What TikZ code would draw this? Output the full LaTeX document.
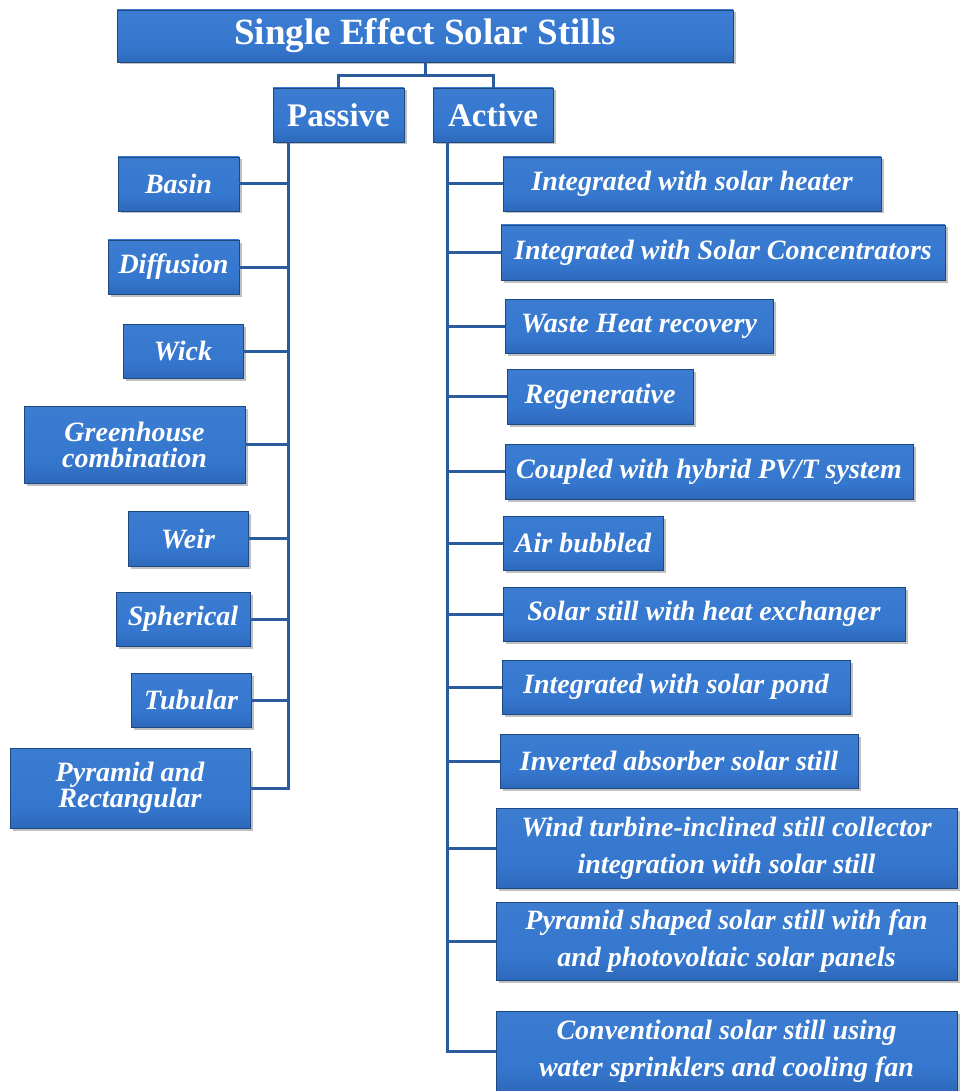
\documentclass[tikz,border=0pt]{standalone}
\usepackage{fontspec}
\setmainfont{Liberation Serif}
\usetikzlibrary{shadows}
\definecolor{btop}{HTML}{6FAAEC}
\definecolor{bmid}{HTML}{3577CE}
\definecolor{bbot}{HTML}{2457A3}
\definecolor{bedge}{HTML}{1E4882}
\definecolor{lnc}{HTML}{2D5C9E}
\pgfdeclareverticalshading{bevel}{100bp}{color(0bp)=(bbot); color(6bp)=(bbot); color(40bp)=(bmid); color(88bp)=(bmid!85!btop); color(93bp)=(btop); color(100bp)=(btop)}
\tikzset{
  box/.style={draw=bedge, line width=0.8pt, shading=bevel,
    text=white, align=center, inner sep=0pt,
    drop shadow={shadow xshift=2.5pt, shadow yshift=-2.5pt, opacity=0.35, fill=black!70}},
  kid/.style={box, font=\bfseries\itshape\fontsize{28}{26}\selectfont},
  kidtwo/.style={box, font=\bfseries\itshape\fontsize{28}{37}\selectfont},
  head/.style={box, font=\bfseries\fontsize{33}{36}\selectfont},
  conn/.style={draw=lnc, line width=3pt}
}
\begin{document}
\begin{tikzpicture}[x=1pt,y=-1pt]
\useasboundingbox (0,0) rectangle (959,1091);
\fill[white] (0,0) rectangle (959,1091);
% headers
\node[head, font=\bfseries\fontsize{37}{40}\selectfont, minimum width=616pt, minimum height=52pt] (title) at (425,36) {Single Effect Solar Stills};
\node[head, minimum width=131pt, minimum height=54pt] (passive) at (338.5,115) {Passive};
\node[head, minimum width=120pt, minimum height=54pt] (active) at (493,115) {Active};
% passive children
\node[kid, minimum width=121pt, minimum height=54pt] (basin) at (178.5,184) {Basin};
\node[kid, minimum width=131pt, minimum height=54pt] (diff) at (173.5,267) {Diffusion};
\node[kid, minimum width=120pt, minimum height=54pt] (wick) at (183,351) {Wick};
\node[kid, minimum width=221pt, minimum height=77pt] (green) at (134.5,444.5) {Greenhouse\\combination};
\node[kid, minimum width=120pt, minimum height=55pt] (weir) at (188,538.5) {Weir};
\node[kid, minimum width=134pt, minimum height=54pt] (sph) at (183,619) {Spherical};
\node[kid, minimum width=120pt, minimum height=54pt] (tub) at (191,700) {Tubular};
\node[kid, font=\bfseries\itshape\fontsize{28}{25}\selectfont, minimum width=240pt, minimum height=80pt] (pyr) at (130,788) {Pyramid and\\Rectangular};
% active children
\node[kid, minimum width=378pt, minimum height=54pt] (a1) at (692,184) {Integrated with solar heater};
\node[kid, minimum width=444pt, minimum height=55pt] (a2) at (723,252.5) {Integrated with Solar Concentrators};
\node[kid, minimum width=268pt, minimum height=54pt] (a3) at (639,326) {Waste Heat recovery};
\node[kid, minimum width=186pt, minimum height=55pt] (a4) at (600,396.5) {Regenerative};
\node[kid, minimum width=408pt, minimum height=55pt] (a5) at (709,471.5) {Coupled with hybrid PV/T system};
\node[kid, minimum width=160pt, minimum height=54pt] (a6) at (583,543) {Air bubbled};
\node[kid, minimum width=402pt, minimum height=54pt] (a7) at (704,614) {Solar still with heat exchanger};
\node[kid, minimum width=348pt, minimum height=54pt] (a8) at (676,687) {Integrated with solar pond};
\node[kid, minimum width=358pt, minimum height=54pt] (a9) at (679,761) {Inverted absorber solar still};
\node[kidtwo, minimum width=461pt, minimum height=80pt] (a10) at (726.5,848) {Wind turbine-inclined still collector\\integration with solar still};
\node[kidtwo, minimum width=461pt, minimum height=78pt] (a11) at (726.5,941) {Pyramid shaped solar still with fan\\and photovoltaic solar panels};
\node[kidtwo, minimum width=461pt, minimum height=80pt] (a12) at (726.5,1051) {Conventional solar still using\\water sprinklers and cooling fan};
% connectors
\coordinate (bar) at (0,76);
\coordinate (ptx) at (288,0);
\coordinate (atx) at (447,0);
\draw[conn] (title.south) -- (title.south |- bar);
\draw[conn] (passive.north) -- (passive.north |- bar) -- (active.north |- bar) -- (active.north);
\draw[conn] (passive.south -| ptx) -- (pyr.east -| ptx) -- (pyr.east);
\foreach \n in {basin,diff,wick,green,weir,sph,tub}
  \draw[conn] (\n.east) -- (\n.east -| ptx);
\draw[conn] (active.south -| atx) -- (a12.west -| atx) -- (a12.west);
\foreach \n in {a1,a2,a3,a4,a5,a6,a7,a8,a9,a10,a11}
  \draw[conn] (\n.west) -- (\n.west -| atx);
\end{tikzpicture}
\end{document}
